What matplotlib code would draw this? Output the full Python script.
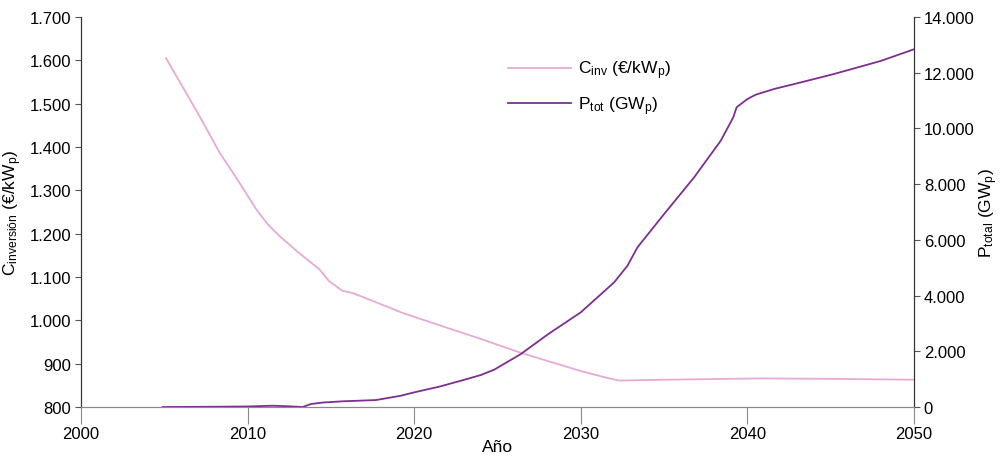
import matplotlib
matplotlib.use('Agg')
import matplotlib.pyplot as plt
from matplotlib.ticker import FuncFormatter

plt.rcParams['font.family'] = ['Liberation Sans', 'DejaVu Sans']
plt.rcParams['mathtext.fontset'] = 'custom'
plt.rcParams['mathtext.rm'] = 'Liberation Sans'
plt.rcParams['mathtext.it'] = 'Liberation Sans'

# Investment cost (EUR/kWp)
c_years = [2005.1, 2006.0, 2007.1, 2008.3, 2009.5, 2010.5, 2011.2, 2011.9, 2013.0,
           2014.3, 2014.9, 2015.7, 2016.3, 2017.5, 2019.3, 2020.0, 2022.5, 2024.0,
           2026.4, 2030.0, 2031.5, 2032.3, 2035.0, 2040.8, 2045.0, 2050.0]
c_inv = [1605, 1545, 1472, 1388, 1318, 1257, 1222, 1195, 1158,
         1118, 1090, 1068, 1063, 1045, 1017, 1008, 976, 957,
         925, 883, 868, 861, 863, 866, 865, 863]

# Total installed power (GWp)
p_years = [2004.9, 2008.0, 2010.0, 2011.5, 2012.5, 2013.3, 2013.8, 2014.5, 2015.7,
           2017.7, 2019.2, 2020.0, 2021.5, 2022.8, 2024.0, 2024.8, 2026.4, 2028.0,
           2030.0, 2032.0, 2032.4, 2032.8, 2033.4, 2035.0, 2036.8, 2038.4, 2039.15,
           2039.35, 2040.0, 2040.5, 2041.6, 2043.0, 2045.2, 2048.0, 2050.0]
p_tot = [0, 10, 20, 47, 25, 0, 108, 160, 205,
         250, 406, 527, 730, 944, 1149, 1340, 1902, 2600,
         3400, 4475, 4774, 5072, 5732, 6927, 8244, 9559, 10398,
         10757, 11055, 11210, 11414, 11620, 11953, 12420, 12840]

fig = plt.figure(figsize=(10.03, 4.6), dpi=100)
ax = fig.add_axes([0.0808, 0.113, 0.8305, 0.848])
ax2 = ax.twinx()

pink = '#e8a9d6'
purple = '#7d2f90'
l1, = ax.plot(c_years, c_inv, color=pink, lw=1.3)
l2, = ax2.plot(p_years, p_tot, color=purple, lw=1.3)

ax.set_xlim(2000, 2050)
ax.set_ylim(800, 1700)
ax2.set_ylim(0, 14000)
ax.set_xticks(range(2000, 2051, 10))
ax.set_yticks(range(800, 1701, 100))
ax2.set_yticks(range(0, 14001, 2000))

fmt = FuncFormatter(lambda v, p: f'{int(v):,}'.replace(',', '.'))
ax.yaxis.set_major_formatter(fmt)
ax2.yaxis.set_major_formatter(fmt)

for a in (ax, ax2):
    a.spines['top'].set_visible(False)
    a.spines['bottom'].set_color('#8a8a8a')
    a.spines['left'].set_color('#333333')
    a.spines['right'].set_color('#333333')
ax.tick_params(axis='x', direction='out', length=12, color='#8a8a8a', labelsize=12, pad=2)
ax.tick_params(axis='y', direction='out', length=4, color='#555555', labelsize=12, pad=3)
ax2.tick_params(axis='y', direction='out', length=4, color='#555555', labelsize=12, pad=3)

ax.set_ylabel(r'C$_{\mathregular{inversión}}$ (€/kW$_{\mathregular{p}}$)', fontsize=12.5, labelpad=4)
ax2.set_ylabel(r'P$_{\mathregular{total}}$ (GW$_{\mathregular{p}}$)', fontsize=12.5, labelpad=2)
ax.set_xlabel('Año', fontsize=12.5, labelpad=-2)

ax.legend([l1, l2],
          [r'C$_{\mathregular{inv}}$ (€/kW$_{\mathregular{p}}$)', r'P$_{\mathregular{tot}}$ (GW$_{\mathregular{p}}$)'],
          loc='upper left', bbox_to_anchor=(0.494, 0.933), frameon=False, fontsize=12.5,
          handlelength=3.6, labelspacing=0.75, handletextpad=0.45)

fig.savefig('out.png', dpi=100)
